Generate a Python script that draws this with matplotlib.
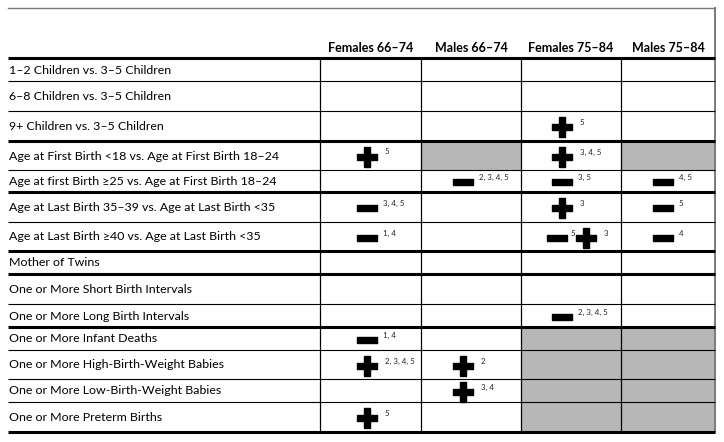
import matplotlib.pyplot as plt
from matplotlib.patches import Rectangle

# ---- data -------------------------------------------------------------
columns = ["Females 66–74", "Males 66–74", "Females 75–84", "Males 75–84"]

row_labels = [
    "1–2 Children vs. 3–5 Children",
    "6–8 Children vs. 3–5 Children",
    "9+ Children vs. 3–5 Children",
    "Age at First Birth <18 vs. Age at First Birth 18–24",
    "Age at first Birth ≥25 vs. Age at First Birth 18–24",
    "Age at Last Birth 35–39 vs. Age at Last Birth <35",
    "Age at Last Birth ≥40 vs. Age at Last Birth <35",
    "Mother of Twins",
    "One or More Short Birth Intervals",
    "One or More Long Birth Intervals",
    "One or More Infant Deaths",
    "One or More High-Birth-Weight Babies",
    "One or More Low-Birth-Weight Babies",
    "One or More Preterm Births",
]

# (row, col) -> list of (sign, superscript)
cells = {
    (2, 2): [("+", "5")],
    (3, 0): [("+", "5")],
    (3, 2): [("+", "3, 4, 5")],
    (4, 1): [("-", "2, 3, 4, 5")],
    (4, 2): [("-", "3, 5")],
    (4, 3): [("-", "4, 5")],
    (5, 0): [("-", "3, 4, 5")],
    (5, 2): [("+", "3")],
    (5, 3): [("-", "5")],
    (6, 0): [("-", "1, 4")],
    (6, 2): [("-", "5"), ("+", "3")],
    (6, 3): [("-", "4")],
    (9, 2): [("-", "2, 3, 4, 5")],
    (10, 0): [("-", "1, 4")],
    (11, 0): [("+", "2, 3, 4, 5")],
    (11, 1): [("+", "2")],
    (12, 1): [("+", "3, 4")],
    (13, 0): [("+", "5")],
}

# cells not estimated (greyed out)
grey_cells = [(3, 1), (3, 3),
              (10, 2), (10, 3), (11, 2), (11, 3), (12, 2), (12, 3), (13, 2), (13, 3)]

# ---- layout (pixels) --------------------------------------------------
W, H = 724, 442
LEFT, RIGHT, TOP = 8, 715, 8
col_edges = [320, 421, 521, 621, 715]
row_edges = [58, 81, 111, 141, 170, 192, 222, 251, 274, 304, 327, 350, 379, 402, 432]
thick_after = {0, 3, 5, 7, 8, 10, 14}  # index into row_edges
sym_offset = [47, 42, 41, 42]
GREY = "#b7b7b7"
FONT = ["Lato", "DejaVu Sans"]

plus_verts = [(-0.34, -1), (0.34, -1), (0.34, -0.34), (1, -0.34), (1, 0.34),
              (0.34, 0.34), (0.34, 1), (-0.34, 1), (-0.34, 0.34), (-1, 0.34),
              (-1, -0.34), (-0.34, -0.34), (-0.34, -1)]
minus_verts = [(-1, -0.36), (1, -0.36), (1, 0.36), (-1, 0.36), (-1, -0.36)]

fig = plt.figure(figsize=(W / 100, H / 100), dpi=100)
ax = fig.add_axes([0, 0, 1, 1])
ax.set_xlim(0, W)
ax.set_ylim(H, 0)
ax.axis("off")

# grey cells
for r, c in grey_cells:
    ax.add_patch(Rectangle((col_edges[c], row_edges[r]),
                           col_edges[c + 1] - col_edges[c],
                           row_edges[r + 1] - row_edges[r],
                           facecolor=GREY, edgecolor="none", zorder=1))

# outer frame (top and right)
ax.plot([LEFT, RIGHT], [TOP, TOP], color="#7a7a7a", lw=1.0, zorder=3)
ax.plot([RIGHT, RIGHT], [TOP, row_edges[-1]], color="#7a7a7a", lw=1.4, zorder=3)

# horizontal rules
for i, y in enumerate(row_edges):
    thick = i in thick_after
    ax.plot([LEFT, RIGHT], [y, y], color="black",
            lw=2.2 if thick else 0.8, zorder=4, solid_capstyle="butt")

# vertical rules
for x in col_edges[:-1]:
    ax.plot([x, x], [row_edges[0], row_edges[-1]], color="black", lw=0.9, zorder=4)

# headers
for c, name in enumerate(columns):
    ax.text((col_edges[c] + col_edges[c + 1]) / 2, row_edges[0] - 6, name,
            ha="center", va="baseline", fontsize=9, fontweight="bold",
            family=FONT, zorder=5)

# row labels
for r, label in enumerate(row_labels):
    ax.text(LEFT + 1, (row_edges[r] + row_edges[r + 1]) / 2 + 0.5, label,
            ha="left", va="center", fontsize=8.9, family=FONT, zorder=5)

# symbols
for (r, c), items in cells.items():
    yc = (row_edges[r] + row_edges[r + 1]) / 2 + 1
    if len(items) == 1:
        offsets = [sym_offset[c]]
    else:
        offsets = [sym_offset[c] - 5, sym_offset[c] + 24]
    for k, ((sign, note), off) in enumerate(zip(items, offsets)):
        x = col_edges[c] + off
        verts = plus_verts if sign == "+" else minus_verts
        ax.plot(x, yc, marker=verts, markersize=14, color="black",
                linestyle="none", zorder=6)
        gap = 18 if sign == "+" else 16
        if len(items) > 1 and k == 0:
            gap = 13.5
        ax.text(x + gap, yc - 4.5, note,
                ha="left", va="center", fontsize=5.7, family=FONT,
                color="#222222", zorder=6)

plt.savefig("out.png", dpi=100)
